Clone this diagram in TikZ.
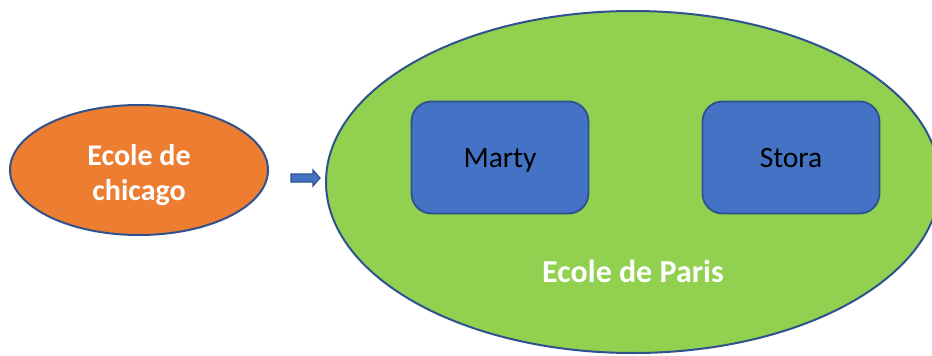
\documentclass[tikz,border=0pt]{standalone}
\usepackage{fontspec}
\setmainfont{Carlito}
\usetikzlibrary{shapes.geometric}
\definecolor{orng}{HTML}{ED7D31}
\definecolor{grn}{HTML}{92D050}
\definecolor{blu}{HTML}{4472C4}
\definecolor{edge}{HTML}{2F528F}
\tikzset{
  blob/.style={ellipse, draw=edge, line width=2pt, inner sep=0pt},
  person/.style={rectangle, rounded corners=20pt, draw=edge, line width=1.8pt, fill=blu,
    minimum width=177pt, minimum height=112pt},
  persontxt/.style={anchor=base, font=\fontsize{29.5}{35}\selectfont, text=black},
  boldlabel/.style={text=white, font=\bfseries\fontsize{32}{35}\selectfont, anchor=base},
  smallbold/.style={boldlabel, font=\bfseries\fontsize{30}{35}\selectfont},
}
\begin{document}
\begin{tikzpicture}[x=1pt,y=-1pt]
\useasboundingbox (0,0) rectangle (932,356);
\clip (0,0) rectangle (932,356);
\node[blob, fill=grn, minimum width=614pt, minimum height=342pt] (paris) at (633,182) {};
\node[blob, fill=orng, minimum width=258pt, minimum height=130pt] (chicago) at (139,170) {};
\node[smallbold] (chicagotxt1) at (139,165.5) {Ecole de};
\node[smallbold] (chicagotxt2) at (139,200) {chicago};
\node[person] (marty) at (500,157.5) {};
\node[person] (stora) at (791,157.5) {};
\node[persontxt] (martytxt) at (500,167) {Marty};
\node[persontxt] (storatxt) at (791,167) {Stora};
\node[boldlabel] (paristxt) at (633,282.5) {Ecole de Paris};
\draw[draw=edge, line width=1.2pt, fill=blu, line join=miter]
  (291,174) -- (313,174) -- (313,170) -- (320,178) -- (313,186) -- (313,182) -- (291,182) -- cycle;
\end{tikzpicture}
\end{document}
